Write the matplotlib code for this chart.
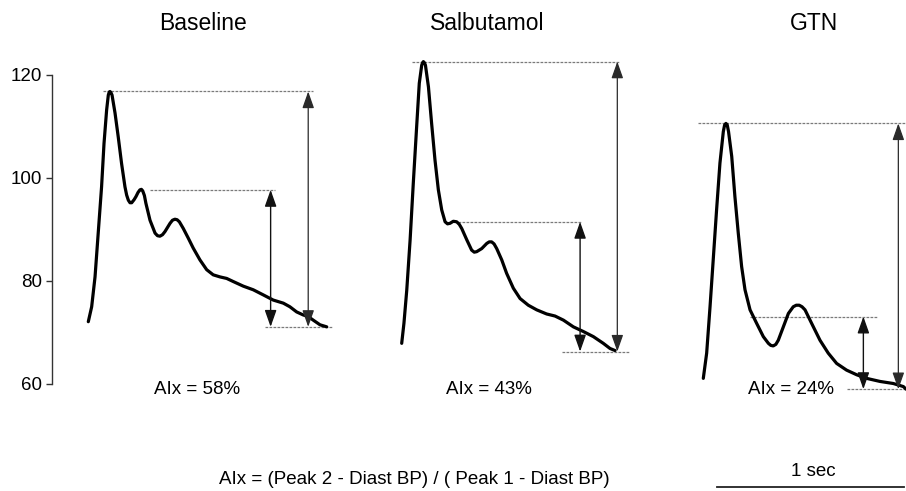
import numpy as np
import matplotlib
matplotlib.use("Agg")
import matplotlib.pyplot as plt

plt.rcParams['font.family'] = ['Liberation Sans', 'DejaVu Sans']

# ---------------- data ----------------
conditions = ["Baseline", "Salbutamol", "GTN"]
aix_labels = ["AIx = 58%", "AIx = 43%", "AIx = 24%"]
formula = "AIx = (Peak 2 - Diast BP) / ( Peak 1 - Diast BP)"
scale_label = "1 sec"
yticks = [60, 80, 100, 120]

# time (s, from wave foot) and pressure (mmHg)
baseline_t = [0, 0.018, 0.036, 0.053, 0.071, 0.084, 0.098, 0.107, 0.112, 0.116, 0.121, 0.127,
              0.143, 0.160, 0.178, 0.196, 0.205, 0.214, 0.223, 0.232, 0.245, 0.255, 0.266, 0.276,
              0.284, 0.291, 0.300, 0.308,
              0.330, 0.357, 0.370, 0.383, 0.397, 0.410, 0.437, 0.450, 0.463, 0.475, 0.487, 0.508,
              0.535, 0.561,
              0.597, 0.633, 0.668, 0.704, 0.740, 0.775, 0.829, 0.882, 0.936, 0.989,
              1.043, 1.078, 1.114, 1.150, 1.176, 1.203, 1.239, 1.275]
baseline_p = [72.0, 74.9, 80.7, 89.2, 98.2, 106.6, 113.1, 116.0, 116.6, 116.7, 116.5, 116.0,
              112.5, 107.9, 102.7, 98.2, 96.6, 95.6, 95.1, 95.1, 95.7, 96.3, 97.1, 97.6,
              97.7, 97.4, 96.5, 95.0,
              91.7, 89.2, 88.7, 88.6, 88.9, 89.5, 91.1, 91.7, 91.9, 91.8, 91.4, 90.1,
              88.2, 86.3,
              84.0, 82.1, 81.1, 80.7, 80.4, 79.8, 78.9, 78.2, 77.2, 76.2,
              75.6, 74.9, 73.9, 73.3, 73.0, 72.3, 71.4, 71.0]

salbutamol_t = [0, 0.012, 0.027, 0.045, 0.062, 0.080, 0.094, 0.107, 0.112, 0.116, 0.121, 0.127,
                0.143, 0.160, 0.178, 0.196, 0.214, 0.232, 0.245, 0.258, 0.276, 0.294, 0.308, 0.321,
                0.348, 0.374, 0.388, 0.401, 0.428, 0.455, 0.468, 0.481, 0.494, 0.508, 0.535, 0.561,
                0.597, 0.633,
                0.677, 0.722, 0.775, 0.820, 0.865, 0.918, 0.971, 1.025, 1.078, 1.114,
                1.141]
salbutamol_p = [67.8, 71.7, 78.1, 87.9, 98.9, 109.9, 118.3, 121.8, 122.3, 122.5, 122.3, 121.8,
                117.6, 110.5, 103.4, 97.6, 93.7, 91.4, 91.0, 91.1, 91.5, 91.4, 90.9, 90.1,
                87.9, 85.9, 85.5, 85.6, 86.2, 87.2, 87.5, 87.5, 87.1, 86.2, 84.0, 81.4,
                78.5, 76.5,
                75.2, 74.3, 73.5, 73.1, 72.3, 71.0, 70.1, 69.1, 67.8, 66.8,
                66.4]

gtn_t = [0, 0.018, 0.036, 0.053, 0.071, 0.089, 0.107, 0.114, 0.121, 0.128, 0.135, 0.152,
         0.169, 0.187, 0.205, 0.223, 0.250, 0.285, 0.321, 0.348, 0.361, 0.374, 0.388, 0.401,
         0.428, 0.455, 0.481, 0.497, 0.513, 0.528, 0.544, 0.579, 0.624, 0.668, 0.713, 0.766,
         0.820, 0.873, 0.945, 1.016, 1.070, 1.084]
gtn_p = [61.0, 65.9, 74.9, 84.0, 93.7, 102.8, 108.9, 110.2, 110.5, 110.2, 108.9, 104.1,
         96.3, 89.2, 82.7, 78.2, 74.3, 71.7, 69.1, 67.8, 67.4, 67.3, 67.6, 68.4,
         71.0, 73.6, 74.9, 75.2, 75.2, 74.9, 74.3, 71.7, 68.4, 65.9, 63.9, 62.6,
         61.7, 61.0, 60.4, 60.0, 59.4, 58.9]

peak1 = [116.7, 122.5, 110.5]
peak2 = [97.6, 91.4, 73.0]
diast = [71.0, 66.2, 58.9]

waves_t = [baseline_t, salbutamol_t, gtn_t]
waves_p = [baseline_p, salbutamol_p, gtn_p]

# ---------------- layout (not data) ----------------
PX_PER_S = 187.0
onsets = [88.3 / PX_PER_S, 401.7 / PX_PER_S, 703.3 / PX_PER_S]
top_ext = [(0.079, 1.202), (0.053, 1.168), (-0.027, 1.087)]
mid_ext = [(0.330, 0.998), (0.303, 0.963), (0.250, 0.927)]
bot_ext = [(0.945, 1.310), (0.856, 1.221), (0.766, 1.087)]
short_arrow_x = [0.975, 0.954, 0.856]
long_arrow_x = [1.176, 1.153, 1.043]
title_xy = [(203, 23), (487, 23), (814, 23)]
aix_xy = [(197, 390), (489, 390), (791, 390)]

W, H = 906, 491
fig = plt.figure(figsize=(W / 100, H / 100), dpi=100)
ax = fig.add_axes([0, 0, 1, 1])
ax.set_xlim(0, W / PX_PER_S)
y_top = 120 + 74.5 / 5.15
y_bot = 120 - (H - 74.5) / 5.15
ax.set_ylim(y_bot, y_top)

for s in ['top', 'right', 'bottom']:
    ax.spines[s].set_visible(False)
ax.spines['left'].set_position(('data', 52 / PX_PER_S))
ax.spines['left'].set_bounds(60, 120)
ax.spines['left'].set_linewidth(1.0)
ax.spines['left'].set_color('#333333')
ax.set_xticks([])
ax.set_yticks(yticks)
ax.set_yticklabels([str(v) for v in yticks])
ax.tick_params(axis='y', direction='out', length=4, width=1.0, pad=3,
               labelsize=13.5, colors='#333333', labelcolor='black')
ax.patch.set_alpha(0)

dash_kw = dict(colors='#7a7a7a', linewidth=0.9, linestyles=(0, (2.2, 1.0)))
short_kw = dict(arrowstyle='<|-|>,head_length=0.85,head_width=0.3',
                color='#111111', lw=1.0, shrinkA=0, shrinkB=0, mutation_scale=12)
long_kw = dict(arrowstyle='<|-|>,head_length=0.85,head_width=0.3',
               color='#2a2a2a', lw=0.9, shrinkA=0, shrinkB=0, mutation_scale=12)

for i in range(3):
    x0 = onsets[i]
    t = np.asarray(waves_t[i]) + x0
    ax.plot(t, waves_p[i], color='black', lw=2.3, solid_joinstyle='round',
            solid_capstyle='round', zorder=3)
    ax.hlines(peak1[i], x0 + top_ext[i][0], x0 + top_ext[i][1], **dash_kw)
    ax.hlines(peak2[i], x0 + mid_ext[i][0], x0 + mid_ext[i][1], **dash_kw)
    ax.hlines(diast[i], x0 + bot_ext[i][0], x0 + bot_ext[i][1], **dash_kw)
    ax.annotate('', xy=(x0 + short_arrow_x[i], peak2[i]),
                xytext=(x0 + short_arrow_x[i], diast[i]), arrowprops=short_kw)
    ax.annotate('', xy=(x0 + long_arrow_x[i], peak1[i]),
                xytext=(x0 + long_arrow_x[i], diast[i]), arrowprops=long_kw)
    fig.text(title_xy[i][0] / W, 1 - title_xy[i][1] / H, conditions[i],
             ha='center', va='center', fontsize=16.5)
    fig.text(aix_xy[i][0] / W, 1 - aix_xy[i][1] / H, aix_labels[i],
             ha='center', va='center', fontsize=13.5)

fig.text(414 / W, 1 - 480 / H, formula, ha='center', va='center', fontsize=13.5)
fig.text(813 / W, 1 - 472 / H, scale_label, ha='center', va='center', fontsize=13.5)
bar_x0 = 717 / PX_PER_S
bar_y = 120 - (486.7 - 74.5) / 5.15
ax.plot([bar_x0, bar_x0 + 1.0], [bar_y, bar_y], color='#222222', lw=1.3,
        clip_on=False)

fig.savefig('out.png', dpi=100)
